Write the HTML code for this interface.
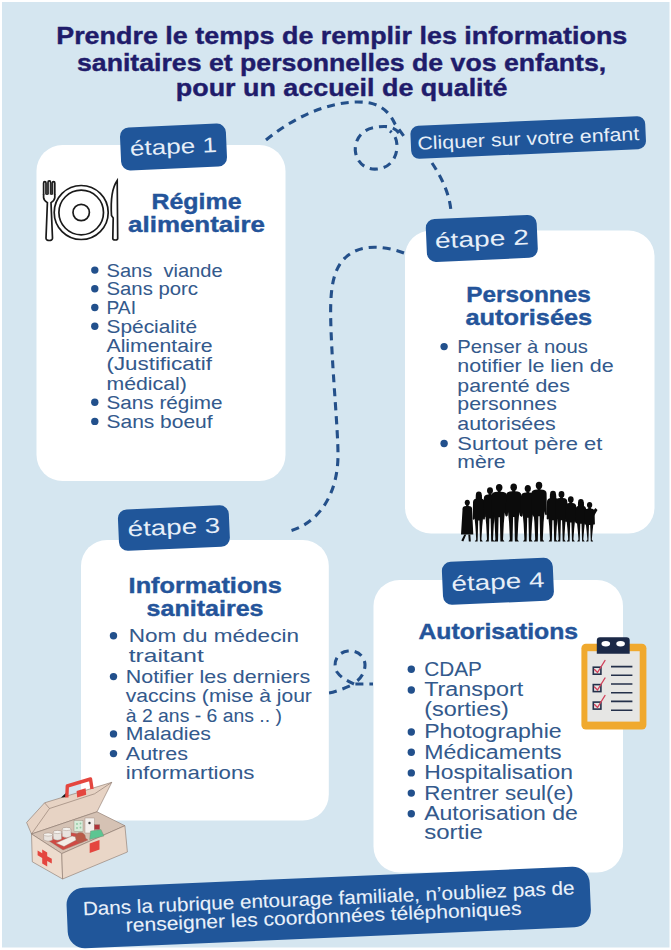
<!DOCTYPE html>
<html><head><meta charset="utf-8"><title>Infographie</title>
<style>html,body{margin:0;padding:0;width:671px;height:950px;overflow:hidden;background:#fff}svg{display:block}text{white-space:pre}</style>
</head><body>
<svg width="671" height="950" viewBox="0 0 671 950" font-family='"Liberation Sans", sans-serif' xml:space="preserve"><rect x="0" y="0" width="671" height="950" fill="#ffffff"/>
<rect x="2" y="2" width="667.5" height="945.5" fill="#d5e6f0"/>
<text x="56.2" y="44.2" font-size="24.5" font-weight="bold" fill="#1f1c6b" stroke="#1f1c6b" stroke-width="0.4" textLength="571.1" lengthAdjust="spacingAndGlyphs">Prendre le temps de remplir les informations</text>
<text x="77.0" y="70.6" font-size="24.5" font-weight="bold" fill="#1f1c6b" stroke="#1f1c6b" stroke-width="0.4" textLength="529.2" lengthAdjust="spacingAndGlyphs">sanitaires et personnelles de vos enfants,</text>
<text x="175.8" y="96.2" font-size="24.5" font-weight="bold" fill="#1f1c6b" stroke="#1f1c6b" stroke-width="0.4" textLength="331.7" lengthAdjust="spacingAndGlyphs">pour un accueil de qualité</text>
<path d="M266,140 C300,112 340,98 370,103 C384,106 391,115 395,124 L406,139" fill="none" stroke="#24508a" stroke-width="3.1" stroke-dasharray="8 6"/>
<path d="M399,133 C393,125 383,126 374,127.5 C360,130 354,142 355.5,152 C357,163 366,170 377,169 C390,168 397,158 397,146 C397,140 395,135 390,131" fill="none" stroke="#24508a" stroke-width="3.1" stroke-dasharray="8 6"/>
<path d="M432,163 C442,178 450,195 451,212" fill="none" stroke="#24508a" stroke-width="3.1" stroke-dasharray="8 6"/>
<path d="M404,253 C385,246 360,243 345,258 C330,272 330,300 331,330 C333,380 338,430 338,455 C338,495 318,525 286,532" fill="none" stroke="#24508a" stroke-width="3.1" stroke-dasharray="8 6"/>
<path d="M329,693 C338,691 348,687 354,684 L373,684" fill="none" stroke="#24508a" stroke-width="3.1" stroke-dasharray="8 6"/>
<path d="M354,684 C348,681 341,678 337,672 C332,663 337,652 348,651 C358,650 365,657 365,665 C365,672 361,678 357,681" fill="none" stroke="#24508a" stroke-width="3.1" stroke-dasharray="8 6"/>
<rect x="36.5" y="145" width="249.0" height="336" rx="26" ry="26" fill="#ffffff"/>
<rect x="405" y="230.5" width="249.5" height="303.0" rx="26" ry="26" fill="#ffffff"/>
<rect x="81" y="540" width="247.8" height="280.5" rx="26" ry="26" fill="#ffffff"/>
<rect x="373.5" y="580" width="249.5" height="292.5" rx="26" ry="26" fill="#ffffff"/>
<g transform="translate(173.5,147) rotate(-2.5)"><rect x="-53.0" y="-21.5" width="106" height="43" rx="9" fill="#20569a"/><text x="0" y="6.8" text-anchor="middle" font-size="21" fill="#e6eef8" textLength="87" lengthAdjust="spacingAndGlyphs">étape 1</text></g>
<g transform="translate(481.8,238.4) rotate(-2.5)"><rect x="-55.5" y="-21.5" width="111" height="43" rx="9" fill="#20569a"/><text x="0" y="7.9" text-anchor="middle" font-size="21.5" fill="#e6eef8" textLength="94" lengthAdjust="spacingAndGlyphs">étape 2</text></g>
<g transform="translate(173.9,528.1) rotate(-2.5)"><rect x="-55.5" y="-20.75" width="111" height="41.5" rx="9" fill="#20569a"/><text x="0" y="6.4" text-anchor="middle" font-size="21.5" fill="#e6eef8" textLength="92.5" lengthAdjust="spacingAndGlyphs">étape 3</text></g>
<g transform="translate(497.9,581.3) rotate(-2.5)"><rect x="-55.5" y="-21.5" width="111" height="43" rx="9" fill="#20569a"/><text x="0" y="7.9" text-anchor="middle" font-size="21.5" fill="#e6eef8" textLength="93" lengthAdjust="spacingAndGlyphs">étape 4</text></g>
<g transform="translate(528.2,137.5) rotate(-2.5)"><rect x="-117.5" y="-16.5" width="235" height="33" rx="8" fill="#20569a"/><text x="0" y="7.4" text-anchor="middle" font-size="18.5" fill="#e6eef8" textLength="222" lengthAdjust="spacingAndGlyphs">Cliquer sur votre enfant</text></g>
<text x="151.5" y="209.0" font-size="21.5" font-weight="bold" fill="#24549a" stroke="#24549a" stroke-width="0.4" textLength="90.0" lengthAdjust="spacingAndGlyphs">Régime</text>
<text x="128.1" y="232.0" font-size="21.5" font-weight="bold" fill="#24549a" stroke="#24549a" stroke-width="0.4" textLength="136.8" lengthAdjust="spacingAndGlyphs">alimentaire</text>
<circle cx="94.8" cy="270.1" r="3.7" fill="#22508c"/><text x="106.5" y="276.5" font-size="18.5" font-weight="normal" fill="#33598c" stroke="#33598c" stroke-width="0.05" textLength="116.1" lengthAdjust="spacingAndGlyphs">Sans  viande</text><circle cx="94.8" cy="288.8" r="3.7" fill="#22508c"/><text x="106.5" y="295.2" font-size="18.5" font-weight="normal" fill="#33598c" stroke="#33598c" stroke-width="0.05" textLength="91.5" lengthAdjust="spacingAndGlyphs">Sans porc</text><circle cx="94.8" cy="307.5" r="3.7" fill="#22508c"/><text x="106.5" y="313.9" font-size="18.5" font-weight="normal" fill="#33598c" stroke="#33598c" stroke-width="0.05" textLength="29.5" lengthAdjust="spacingAndGlyphs">PAI</text><circle cx="94.8" cy="326.2" r="3.7" fill="#22508c"/><text x="106.5" y="332.6" font-size="18.5" font-weight="normal" fill="#33598c" stroke="#33598c" stroke-width="0.05" textLength="90.5" lengthAdjust="spacingAndGlyphs">Spécialité</text><text x="106.5" y="351.7" font-size="18.5" font-weight="normal" fill="#33598c" stroke="#33598c" stroke-width="0.05" textLength="106.1" lengthAdjust="spacingAndGlyphs">Alimentaire</text><text x="106.5" y="370.3" font-size="18.5" font-weight="normal" fill="#33598c" stroke="#33598c" stroke-width="0.05" textLength="105.5" lengthAdjust="spacingAndGlyphs">(Justificatif</text><text x="106.5" y="389.8" font-size="18.5" font-weight="normal" fill="#33598c" stroke="#33598c" stroke-width="0.05" textLength="80.3" lengthAdjust="spacingAndGlyphs">médical)</text><circle cx="94.8" cy="402.2" r="3.7" fill="#22508c"/><text x="106.5" y="408.6" font-size="18.5" font-weight="normal" fill="#33598c" stroke="#33598c" stroke-width="0.05" textLength="116.1" lengthAdjust="spacingAndGlyphs">Sans régime</text><circle cx="94.8" cy="421.4" r="3.7" fill="#22508c"/><text x="106.5" y="427.8" font-size="18.5" font-weight="normal" fill="#33598c" stroke="#33598c" stroke-width="0.05" textLength="106.1" lengthAdjust="spacingAndGlyphs">Sans boeuf</text>
<text x="466.3" y="302.0" font-size="21.5" font-weight="bold" fill="#24549a" stroke="#24549a" stroke-width="0.4" textLength="124.5" lengthAdjust="spacingAndGlyphs">Personnes</text>
<text x="465.4" y="325.0" font-size="21.5" font-weight="bold" fill="#24549a" stroke="#24549a" stroke-width="0.4" textLength="126.8" lengthAdjust="spacingAndGlyphs">autorisées</text>
<circle cx="444.1" cy="346.6" r="3.7" fill="#22508c"/><text x="457.3" y="353.0" font-size="18.5" font-weight="normal" fill="#33598c" stroke="#33598c" stroke-width="0.05" textLength="130.5" lengthAdjust="spacingAndGlyphs">Penser à nous</text><text x="457.3" y="371.9" font-size="18.5" font-weight="normal" fill="#33598c" stroke="#33598c" stroke-width="0.05" textLength="156.3" lengthAdjust="spacingAndGlyphs">notifier le lien de</text><text x="457.3" y="391.5" font-size="18.5" font-weight="normal" fill="#33598c" stroke="#33598c" stroke-width="0.05" textLength="112.5" lengthAdjust="spacingAndGlyphs">parenté des</text><text x="457.3" y="410.2" font-size="18.5" font-weight="normal" fill="#33598c" stroke="#33598c" stroke-width="0.05" textLength="99.5" lengthAdjust="spacingAndGlyphs">personnes</text><text x="457.3" y="429.6" font-size="18.5" font-weight="normal" fill="#33598c" stroke="#33598c" stroke-width="0.05" textLength="98.5" lengthAdjust="spacingAndGlyphs">autorisées</text><circle cx="444.1" cy="443.5" r="3.7" fill="#22508c"/><text x="457.3" y="449.9" font-size="18.5" font-weight="normal" fill="#33598c" stroke="#33598c" stroke-width="0.05" textLength="145.0" lengthAdjust="spacingAndGlyphs">Surtout père et</text><text x="457.3" y="468.4" font-size="18.5" font-weight="normal" fill="#33598c" stroke="#33598c" stroke-width="0.05" textLength="48.3" lengthAdjust="spacingAndGlyphs">mère</text>
<text x="128.6" y="592.9" font-size="21.5" font-weight="bold" fill="#24549a" stroke="#24549a" stroke-width="0.4" textLength="153.3" lengthAdjust="spacingAndGlyphs">Informations</text>
<text x="146.6" y="615.8" font-size="21.5" font-weight="bold" fill="#24549a" stroke="#24549a" stroke-width="0.4" textLength="116.9" lengthAdjust="spacingAndGlyphs">sanitaires</text>
<circle cx="113.5" cy="635.8" r="3.7" fill="#22508c"/><text x="128.8" y="642.2" font-size="19" font-weight="normal" fill="#33598c" stroke="#33598c" stroke-width="0.05" textLength="170.1" lengthAdjust="spacingAndGlyphs">Nom du médecin</text><text x="128.8" y="662.2" font-size="19" font-weight="normal" fill="#33598c" stroke="#33598c" stroke-width="0.05" textLength="74.9" lengthAdjust="spacingAndGlyphs">traitant</text><circle cx="113.5" cy="676.6" r="3.7" fill="#22508c"/><text x="125.8" y="683.0" font-size="19" font-weight="normal" fill="#33598c" stroke="#33598c" stroke-width="0.05" textLength="184.4" lengthAdjust="spacingAndGlyphs">Notifier les derniers</text><text x="125.8" y="702.0" font-size="19" font-weight="normal" fill="#33598c" stroke="#33598c" stroke-width="0.05" textLength="186.1" lengthAdjust="spacingAndGlyphs">vaccins (mise à jour</text><text x="125.8" y="721.6" font-size="19" font-weight="normal" fill="#33598c" stroke="#33598c" stroke-width="0.05" textLength="156.1" lengthAdjust="spacingAndGlyphs">à 2 ans - 6 ans .. )</text><circle cx="113.5" cy="733.9" r="3.7" fill="#22508c"/><text x="125.8" y="740.3" font-size="19" font-weight="normal" fill="#33598c" stroke="#33598c" stroke-width="0.05" textLength="85.1" lengthAdjust="spacingAndGlyphs">Maladies</text><circle cx="113.5" cy="753.6" r="3.7" fill="#22508c"/><text x="125.8" y="760.0" font-size="19" font-weight="normal" fill="#33598c" stroke="#33598c" stroke-width="0.05" textLength="62.1" lengthAdjust="spacingAndGlyphs">Autres</text><text x="125.8" y="778.5" font-size="19" font-weight="normal" fill="#33598c" stroke="#33598c" stroke-width="0.05" textLength="128.6" lengthAdjust="spacingAndGlyphs">informartions</text>
<text x="418.4" y="638.9" font-size="21.5" font-weight="bold" fill="#24549a" stroke="#24549a" stroke-width="0.4" textLength="159.7" lengthAdjust="spacingAndGlyphs">Autorisations</text>
<circle cx="411.3" cy="669.2" r="3.7" fill="#22508c"/><text x="424.2" y="675.6" font-size="19.5" font-weight="normal" fill="#33598c" stroke="#33598c" stroke-width="0.05" textLength="57.7" lengthAdjust="spacingAndGlyphs">CDAP</text><circle cx="411.3" cy="690.0" r="3.7" fill="#22508c"/><text x="424.2" y="696.4" font-size="19.5" font-weight="normal" fill="#33598c" stroke="#33598c" stroke-width="0.05" textLength="99.0" lengthAdjust="spacingAndGlyphs">Transport</text><text x="424.2" y="715.8" font-size="19.5" font-weight="normal" fill="#33598c" stroke="#33598c" stroke-width="0.05" textLength="84.5" lengthAdjust="spacingAndGlyphs">(sorties)</text><circle cx="411.3" cy="732.0" r="3.7" fill="#22508c"/><text x="424.2" y="738.4" font-size="19.5" font-weight="normal" fill="#33598c" stroke="#33598c" stroke-width="0.05" textLength="137.5" lengthAdjust="spacingAndGlyphs">Photographie</text><circle cx="411.3" cy="752.2" r="3.7" fill="#22508c"/><text x="424.2" y="758.6" font-size="19.5" font-weight="normal" fill="#33598c" stroke="#33598c" stroke-width="0.05" textLength="137.5" lengthAdjust="spacingAndGlyphs">Médicaments</text><circle cx="411.3" cy="772.9" r="3.7" fill="#22508c"/><text x="424.2" y="779.3" font-size="19.5" font-weight="normal" fill="#33598c" stroke="#33598c" stroke-width="0.05" textLength="148.7" lengthAdjust="spacingAndGlyphs">Hospitalisation</text><circle cx="411.3" cy="793.1" r="3.7" fill="#22508c"/><text x="424.2" y="799.5" font-size="19.5" font-weight="normal" fill="#33598c" stroke="#33598c" stroke-width="0.05" textLength="149.2" lengthAdjust="spacingAndGlyphs">Rentrer seul(e)</text><circle cx="411.3" cy="813.8" r="3.7" fill="#22508c"/><text x="424.2" y="820.2" font-size="19.5" font-weight="normal" fill="#33598c" stroke="#33598c" stroke-width="0.05" textLength="153.7" lengthAdjust="spacingAndGlyphs">Autorisation de</text><text x="424.2" y="839.2" font-size="19.5" font-weight="normal" fill="#33598c" stroke="#33598c" stroke-width="0.05" textLength="58.7" lengthAdjust="spacingAndGlyphs">sortie</text>
<g fill="none" stroke="#1a1a1a" stroke-width="1.7"><circle cx="81.2" cy="212.5" r="27"/><circle cx="81.2" cy="212.5" r="22.3"/><circle cx="81.2" cy="212.5" r="8.2"/><path d="M43.6,194.5 L43.6,183 C43.6,181.2 46,181.2 46,183 L46,194.5 M48,194.5 L48,182.4 C48,180.4 50.6,180.4 50.6,182.4 L50.6,194.5 M52.4,194.5 L52.4,183 C52.4,181.2 54.8,181.2 54.8,183 L54.8,194.5"/><path d="M43.6,194 L43.6,197.5 C43.6,200 45.2,201.2 47.4,202.6 L46,238.3 C45.9,241.2 52.6,241.2 52.5,238.3 L51,202.6 C53.2,201.2 54.8,200 54.8,197.5 L54.8,194"/><path d="M117.2,180.5 C112,188 110.5,200 111.5,215.5 L113.2,218 L112.8,238.5 C112.8,240.5 117.7,240.5 117.7,238.5 Z"/></g>
<g fill="#3a3a3a"><rect x="46" y="183" width="2" height="12"/><rect x="50.6" y="183" width="1.8" height="12"/></g>
<g><rect x="581.4" y="643.8" width="65" height="85.8" rx="4.5" fill="#f0a92e"/><rect x="587.4" y="651.2" width="52.3" height="70.4" fill="#e6e6e4"/><path d="M596.8,653.8 L596.8,640.5 Q596.8,637.3 600,637.3 L626.5,637.3 Q629.7,637.3 629.7,640.5 L629.7,653.8 Z" fill="#1b2947"/><ellipse cx="605.8" cy="643.8" rx="4.3" ry="2.7" fill="#ffffff"/><ellipse cx="620.6" cy="643.8" rx="4.3" ry="2.7" fill="#ffffff"/><g fill="none" stroke="#24304a" stroke-width="1.6"><rect x="593.3" y="667.2" width="7.6" height="7" /><rect x="593.3" y="684.6" width="7.6" height="7" /><rect x="593.3" y="702.1" width="7.6" height="7" /><path d="M611,666.6 H632.4 M611,675.3 H632.4 M611,684 H632.4 M611,692.7 H632.4 M611,701.4 H632.4 M611,710.2 H632.4"/></g><g fill="none" stroke="#d2405a" stroke-width="1.4" stroke-linecap="round"><path d="M594.5,669.5 L597.5,672.5 L605,660.5"/><path d="M594.5,687 L597.5,690 L605,678"/><path d="M594.5,704.5 L597.5,707.5 L605,695.5"/></g></g>
<g fill="#0b0b0b"><ellipse cx="467.3" cy="502.6" rx="2.55" ry="2.90"/><path d="M466.1,505.0 L468.5,505.0 L468.5,506.1 Q472.6,506.1 472.1,510.1 L473.3,534.5 L461.0,534.5 L462.5,510.1 Q462.0,506.1 466.1,506.1 Z"/><path d="M464.3,534.5 L461.3,540.5 L463.3,541.5 L466.3,534.5 Z M468.3,534.5 L468.8,541.5 L470.8,541.5 L470.3,534.5 Z"/><ellipse cx="478.8" cy="494.8" rx="2.90" ry="3.30"/><path d="M475.83,494.8 Q475.17,502.06 478.14,501.40000000000003 L480.12,501.40000000000003 Q482.76,501.40000000000003 481.77000000000004,494.8 Z"/><path d="M477.40000000000003,497.3 L477.40000000000003,498.50000000000006 Q472.59999999999997,498.50000000000006 473.0,503.20000000000005 L472.7,519.0840000000001 Q473.8,520.884 474.59999999999997,518.5840000000001 L474.40000000000003,516.282 L475.40000000000003,526.485 L476.20000000000005,539.5 L474.8,541.5 L477.6,541.5 L478.2,520.485 L479.40000000000003,520.485 L480.0,541.5 L482.8,541.5 L481.4,539.5 L482.2,526.485 L483.2,516.282 L483.00000000000006,518.5840000000001 Q483.8,520.884 484.90000000000003,519.0840000000001 L484.6,503.20000000000005 Q485.00000000000006,498.50000000000006 480.2,498.50000000000006 L480.2,497.3 Z"/><ellipse cx="490.0" cy="490.6" rx="2.99" ry="3.40"/><path d="M488.6,493.2 L488.6,494.40000000000003 Q483.4,494.40000000000003 483.8,499.1 L483.5,517.068 Q484.6,518.8679999999999 485.4,516.568 L485.2,514.014 L486.2,524.595 L487.0,539.5 L485.59999999999997,541.5 L488.8,541.5 L489.4,518.595 L490.6,518.595 L491.2,541.5 L494.40000000000003,541.5 L493.0,539.5 L493.8,524.595 L494.8,514.014 L494.6,516.568 Q495.4,518.8679999999999 496.5,517.068 L496.2,499.1 Q496.6,494.40000000000003 491.4,494.40000000000003 L491.4,493.2 Z"/><ellipse cx="499.2" cy="487.6" rx="3.26" ry="3.70"/><path d="M497.8,490.5 L497.8,491.70000000000005 Q490.99999999999994,491.70000000000005 491.4,496.40000000000003 L491.09999999999997,515.628 Q492.2,517.428 492.99999999999994,515.128 L493.6,512.394 L494.6,523.245 L495.40000000000003,539.5 L494.0,541.5 L498.0,541.5 L498.59999999999997,517.245 L499.8,517.245 L500.4,541.5 L504.4,541.5 L502.99999999999994,539.5 L503.79999999999995,523.245 L504.79999999999995,512.394 L505.40000000000003,515.128 Q506.2,517.428 507.3,515.628 L507.0,496.40000000000003 Q507.40000000000003,491.70000000000005 500.59999999999997,491.70000000000005 L500.59999999999997,490.5 Z"/><ellipse cx="513.7" cy="487.2" rx="3.26" ry="3.70"/><path d="M512.3000000000001,490.09999999999997 L512.3000000000001,491.3 Q505.70000000000005,491.3 506.1000000000001,496.0 L505.80000000000007,515.436 Q506.9000000000001,517.236 507.70000000000005,514.936 L508.1000000000001,512.178 L509.1000000000001,523.065 L509.9000000000001,539.5 L508.50000000000006,541.5 L512.5,541.5 L513.1,517.065 L514.3000000000001,517.065 L514.9000000000001,541.5 L518.9,541.5 L517.5,539.5 L518.3000000000001,523.065 L519.3000000000001,512.178 L519.7,514.936 Q520.5,517.236 521.6,515.436 L521.3000000000001,496.0 Q521.7,491.3 515.1,491.3 L515.1,490.09999999999997 Z"/><ellipse cx="527.8" cy="488.6" rx="3.08" ry="3.50"/><path d="M526.4,491.3 L526.4,492.50000000000006 Q520.5999999999999,492.50000000000006 520.9999999999999,497.20000000000005 L520.6999999999999,516.1080000000001 Q521.8,517.908 522.5999999999999,515.6080000000001 L522.5999999999999,512.934 L523.5999999999999,523.695 L524.4,539.5 L523.0,541.5 L526.5999999999999,541.5 L527.1999999999999,517.695 L528.4,517.695 L529.0,541.5 L532.5999999999999,541.5 L531.1999999999999,539.5 L532.0,523.695 L533.0,512.934 L533.0,515.6080000000001 Q533.8,517.908 534.9,516.1080000000001 L534.6,497.20000000000005 Q535.0,492.50000000000006 529.1999999999999,492.50000000000006 L529.1999999999999,491.3 Z"/><ellipse cx="539.0" cy="485.4" rx="3.26" ry="3.70"/><path d="M537.6,488.29999999999995 L537.6,489.5 Q531.0,489.5 531.4,494.2 L531.1,514.572 Q532.2,516.372 533.0,514.072 L533.4,511.206 L534.4,522.255 L535.2,539.5 L533.8000000000001,541.5 L537.8,541.5 L538.4,516.255 L539.6,516.255 L540.2,541.5 L544.1999999999999,541.5 L542.8,539.5 L543.6,522.255 L544.6,511.206 L545.0,514.072 Q545.8,516.372 546.9,514.572 L546.6,494.2 Q547.0,489.5 540.4,489.5 L540.4,488.29999999999995 Z"/><ellipse cx="553.0" cy="494.2" rx="2.99" ry="3.40"/><path d="M549.94,494.2 Q549.26,501.68 552.32,501.0 L554.36,501.0 Q557.08,501.0 556.06,494.2 Z"/><path d="M551.6,496.79999999999995 L551.6,498.0 Q546.6,498.0 547.0,502.7 L546.7,518.796 Q547.8000000000001,520.596 548.6,518.296 L548.1999999999999,515.958 L549.1999999999999,526.215 L550.0,539.5 L548.6,541.5 L551.8,541.5 L552.4,520.215 L553.6,520.215 L554.2,541.5 L557.4,541.5 L556.0,539.5 L556.8000000000001,526.215 L557.8000000000001,515.958 L557.4,518.296 Q558.1999999999999,520.596 559.3,518.796 L559.0,502.7 Q559.4,498.0 554.4,498.0 L554.4,496.79999999999995 Z"/><ellipse cx="561.5" cy="494.4" rx="2.90" ry="3.30"/><path d="M560.1,496.9 L560.1,498.1 Q555.3,498.1 555.6999999999999,502.8 L555.4,518.8919999999999 Q556.5,520.6919999999999 557.3,518.3919999999999 L556.9,516.066 L557.9,526.305 L558.7,539.5 L557.3000000000001,541.5 L560.3,541.5 L560.9,520.305 L562.1,520.305 L562.7,541.5 L565.6999999999999,541.5 L564.3,539.5 L565.1,526.305 L566.1,516.066 L565.7,518.3919999999999 Q566.5,520.6919999999999 567.6,518.8919999999999 L567.3000000000001,502.8 Q567.7,498.1 562.9,498.1 L562.9,496.9 Z"/><ellipse cx="570.8" cy="499.4" rx="2.82" ry="3.20"/><path d="M569.4,501.79999999999995 L569.4,503.0 Q564.9999999999999,503.0 565.3999999999999,507.7 L565.0999999999999,521.292 Q566.1999999999999,523.092 566.9999999999999,520.792 L566.3999999999999,518.766 L567.3999999999999,528.555 L568.1999999999999,539.5 L566.8,541.5 L569.5999999999999,541.5 L570.1999999999999,522.555 L571.4,522.555 L572.0,541.5 L574.8,541.5 L573.4,539.5 L574.2,528.555 L575.2,518.766 L574.6,520.792 Q575.4,523.092 576.5,521.292 L576.2,507.7 Q576.6,503.0 572.1999999999999,503.0 L572.1999999999999,501.79999999999995 Z"/><ellipse cx="580.9" cy="502.2" rx="2.82" ry="3.20"/><path d="M578.02,502.2 Q577.38,509.24 580.26,508.59999999999997 L582.18,508.59999999999997 Q584.74,508.59999999999997 583.78,502.2 Z"/><path d="M579.5,504.59999999999997 L579.5,505.8 Q575.3,505.8 575.6999999999999,510.5 L575.4,522.636 Q576.5,524.4359999999999 577.3,522.136 L576.6999999999999,520.278 L577.6999999999999,529.815 L578.5,539.5 L577.1,541.5 L579.6999999999999,541.5 L580.3,523.815 L581.5,523.815 L582.1,541.5 L584.6999999999999,541.5 L583.3,539.5 L584.1,529.815 L585.1,520.278 L584.5,522.136 Q585.3,524.4359999999999 586.4,522.636 L586.1,510.5 Q586.5,505.8 582.3,505.8 L582.3,504.59999999999997 Z"/><ellipse cx="589.6" cy="505.0" rx="2.64" ry="3.00"/><path d="M588.2,507.2 L588.2,508.40000000000003 Q584.2,508.40000000000003 584.6,513.1 L584.3000000000001,523.98 Q585.4000000000001,525.78 586.2,523.48 L585.6,521.79 L586.6,531.075 L587.4000000000001,539.5 L586.0000000000001,541.5 L588.4,541.5 L589.0,525.075 L590.2,525.075 L590.8000000000001,541.5 L593.1999999999999,541.5 L591.8,539.5 L592.6,531.075 L593.6,521.79 L593.0,523.48 Q593.8,525.78 594.9,523.98 L594.6,513.1 Q595.0,508.40000000000003 591.0,508.40000000000003 L591.0,507.2 Z"/><path d="M592,512 L595.5,508 L597.5,510 L594,516 Z"/></g>
<g stroke="#8a766a" stroke-width="0.6" stroke-linejoin="round"><path d="M26.6,822.5 L44.6,802.8 L111.8,782.3 L97,811.8 L31.5,834 Z" fill="#e7d3c4"/><path d="M44.6,802.8 L49.5,808.5 L94.6,793.8 L111.8,782.3" fill="none"/><path d="M49.5,808.5 L31.5,834" fill="none"/><path d="M31.5,834 L97,811.8 L124.9,825.7 L61.8,853.6 Z" fill="#d5c2b4"/><path d="M31.5,834 L61.8,853.6 L62.6,879 L32.3,861.8 Z" fill="#eddcce"/><path d="M61.8,853.6 L124.9,825.7 L127.4,852 L62.6,879 Z" fill="#e9d6c7"/></g>
<g stroke="#8a766a" stroke-width="0.35"><path d="M46,839 L66,832 L80,834 L88,840 L63,850 Z" fill="#cf4a44"/><path d="M43.7,834.5 L43.7,840 Q48,842.5 52.6,840 L52.6,834.5 Z" fill="#e9e4df"/><ellipse cx="48.1" cy="834.5" rx="4.45" ry="1.6" fill="#f5f2ee"/><path d="M53.2,832 L53.2,839 Q57.4,841.5 61.6,839 L61.6,832 Z" fill="#e9e4df"/><ellipse cx="57.4" cy="832" rx="4.2" ry="1.6" fill="#f5f2ee"/><path d="M62.2,829 L62.2,836.5 Q66.6,839 71,836.5 L71,829 Z" fill="#e9e4df"/><ellipse cx="66.6" cy="829" rx="4.4" ry="1.6" fill="#f5f2ee"/><path d="M56,843 L72,836 L80,838 L64,846.5 Z" fill="#f3ece6"/><ellipse cx="80.5" cy="837.5" rx="5" ry="5" fill="#b95a48"/><rect x="74" y="820.5" width="9" height="11" fill="#d8ecda"/><rect x="85" y="818" width="9.5" height="15" fill="#f4f0ec"/><path d="M89.6,839.6 L90.5,831 L101,829.5 L104,836 Z" fill="#5cc592"/><rect x="94.4" y="824.7" width="5.3" height="4.7" fill="#b0343a"/></g>
<g fill="#8fc9a2"><circle cx="77" cy="824" r="0.9"/><circle cx="80.5" cy="823.5" r="0.9"/><circle cx="77" cy="828" r="0.9"/><circle cx="80.5" cy="827.5" r="0.9"/></g>
<circle cx="89.5" cy="823" r="1.2" fill="#3d3d3d"/>
<g fill="#e4463f"><path d="M42.2,849.5 L47.2,852.5 L47.2,856.2 L51.8,858.8 L51.8,863.5 L47.2,860.9 L47.2,866.5 L42.2,863.5 L42.2,857.9 L37.6,855.3 L37.6,850.6 L42.2,853.2 Z"/><path d="M89.7,843.5 L99.5,840 L99.5,849.5 L89.7,853 Z"/><path d="M76.6,791 L85.6,788.3 L86.2,794.8 L77.2,797.5 Z"/></g>
<path d="M61,797.5 L66,793 L67,797 Z" fill="#1a1a1a"/>
<path d="M66.8,797.5 L67.3,786 L90.5,779 L92,789" fill="none" stroke="#e4463f" stroke-width="3.4" stroke-linejoin="round"/>
<g transform="translate(328.7,907) rotate(-2.45)"><rect x="-261.8" y="-29.8" width="523.6" height="60.6" rx="17" fill="#20569a"/><text x="-245.6" y="-2.2" font-size="19" fill="#e9f1fa" stroke="#e9f1fa" stroke-width="0.1" textLength="492" lengthAdjust="spacingAndGlyphs">Dans la rubrique entourage familiale, n’oubliez pas de</text><text x="-203.5" y="16" font-size="19" fill="#e9f1fa" stroke="#e9f1fa" stroke-width="0.1" textLength="396" lengthAdjust="spacingAndGlyphs">renseigner les coordonnées téléphoniques</text></g></svg>
</body></html>
